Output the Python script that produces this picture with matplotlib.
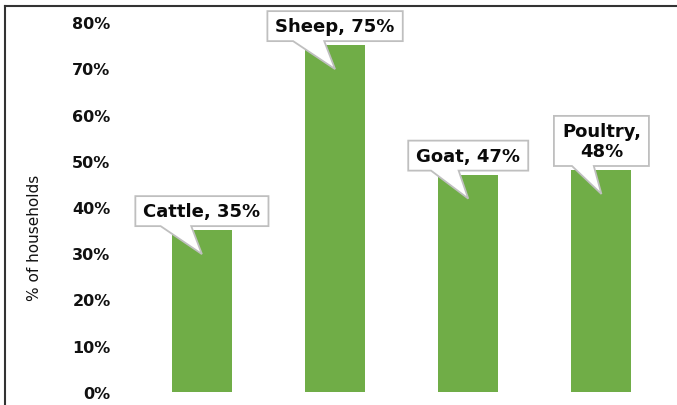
import matplotlib
matplotlib.use("Agg")
import matplotlib.pyplot as plt
from matplotlib.lines import Line2D
from matplotlib.patches import Polygon
from matplotlib.transforms import IdentityTransform

categories = ["Cattle", "Sheep", "Goat", "Poultry"]
values = [0.35, 0.75, 0.47, 0.48]
label_texts = ["Cattle, 35%", "Sheep, 75%", "Goat, 47%", "Poultry,\n48%"]
yticks = [0, 0.1, 0.2, 0.3, 0.4, 0.5, 0.6, 0.7, 0.8]
ytick_labels = ["0%", "10%", "20%", "30%", "40%", "50%", "60%", "70%", "80%"]

FONT = ["DejaVu Sans"]
W, H = 677, 406
fig = plt.figure(figsize=(W / 100, H / 100), dpi=100)

ax_left, ax_right, ax_bottom, ax_top = 130, 668, 393, 23
ax = fig.add_axes([ax_left / W, (H - ax_bottom) / H, (ax_right - ax_left) / W, (ax_bottom - ax_top) / H])

x = list(range(len(categories)))
ax.bar(x, values, width=0.45, color="#70AD47", zorder=2)
ax.set_xlim(-0.54, 3.5)
ax.set_ylim(0, 0.8)
ax.set_yticks(yticks)
ax.set_yticklabels(ytick_labels, fontfamily=FONT, fontweight="bold", fontsize=11.5, color="#111111")
ax.set_xticks([])
ax.tick_params(axis="y", length=0, pad=14)
for s in ax.spines.values():
    s.set_visible(False)

ax.set_ylabel("% of households", fontfamily=FONT, fontsize=11, color="#111111")
ax.yaxis.set_label_coords(-0.163, 0.42)

# callout texts
texts = []
for i, (v, t) in enumerate(zip(values, label_texts)):
    txt = ax.annotate(
        t, xy=(i, v), xytext=(0, 10), textcoords="offset pixels",
        ha="center", va="bottom", fontsize=13, fontweight="bold",
        fontfamily=FONT, color="#0a0a0a", linespacing=1.15, zorder=6,
        annotation_clip=False,
    )
    texts.append(txt)

fig.canvas.draw()
renderer = fig.canvas.get_renderer()
padx, pady = 8, 6
for i, (v, txt) in enumerate(zip(values, texts)):
    bb = txt.get_window_extent(renderer)
    L, R = bb.x0 - padx, bb.x1 + padx
    B, T = bb.y0 - pady, bb.y1 + pady
    wbox = R - L
    tx, ty = ax.transData.transform((i, v))
    ty = ty - 24
    b1, b2 = L + 0.19 * wbox, L + 0.42 * wbox
    verts = [(L, B), (b1, B), (tx, ty), (b2, B), (R, B), (R, T), (L, T)]
    poly = Polygon(verts, closed=True, fc="white", ec="#bfbfbf", lw=1.3,
                   transform=IdentityTransform(), zorder=5, clip_on=False,
                   joinstyle="miter")
    ax.add_patch(poly)

# frame lines (top and left)
fig.add_artist(Line2D([5 / W, 1.0], [1 - 7 / H, 1 - 7 / H], color="#333333", lw=1.5, transform=fig.transFigure))
fig.add_artist(Line2D([5 / W, 5 / W], [0, 1 - 7 / H], color="#333333", lw=1.5, transform=fig.transFigure))

fig.savefig("out.png", dpi=100)
